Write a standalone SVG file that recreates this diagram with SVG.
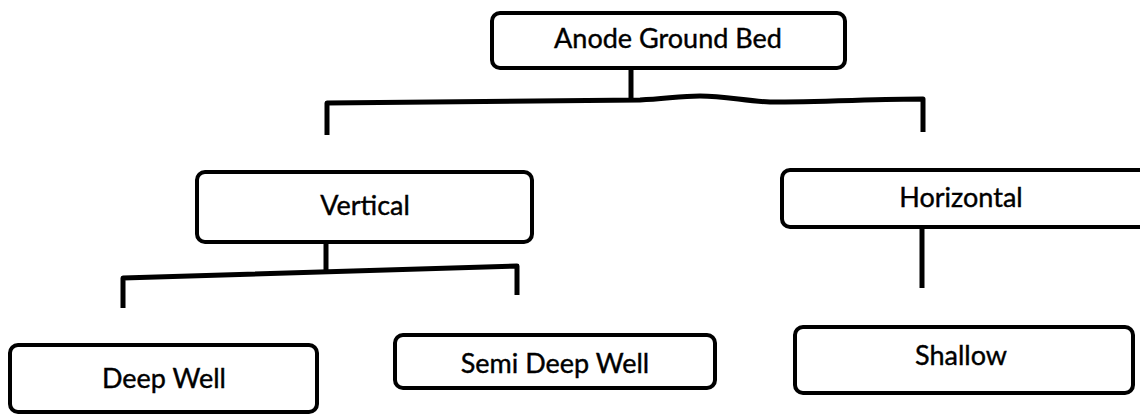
<svg xmlns="http://www.w3.org/2000/svg" width="1140" height="417" viewBox="0 0 1140 417">
<style>
.box{fill:#fff;stroke:#000;stroke-width:4;}
.lbl{font-family:Lato,"Liberation Sans",sans-serif;font-size:27px;fill:#000;stroke:#000;stroke-width:0.4;text-anchor:middle;}
.con{fill:none;stroke:#000;stroke-width:5;stroke-linejoin:round;}
</style>
<rect width="1140" height="417" fill="#fff"/>
<g id="connectors">
<line class="con" x1="631" y1="68" x2="631" y2="101"/>
<path class="con" d="M327,135 V103 L640,100 C665,99 680,96 700,96 C725,96 745,101 770,102 C820,102 880,99 923,99 V132"/>
<line class="con" x1="326" y1="242" x2="326" y2="272"/>
<path class="con" d="M123,308 V278 L517,266 V295"/>
<line class="con" x1="922" y1="227" x2="922" y2="288" stroke-width="4"/>
</g>
<g id="n-anode">
<rect class="box" x="492" y="13" width="353" height="55" rx="8"/>
<text class="lbl" x="668" y="48">Anode Ground Bed</text>
</g>
<g id="n-vertical">
<rect class="box" x="197" y="172" width="335" height="70" rx="8"/>
<text class="lbl" x="365" y="215">Vertical</text>
</g>
<g id="n-horizontal">
<rect class="box" x="782" y="170" width="380" height="57" rx="8"/>
<text class="lbl" x="961" y="207">Horizontal</text>
</g>
<g id="n-deepwell">
<rect class="box" x="10" y="345" width="307" height="67" rx="8"/>
<text class="lbl" x="164" y="388">Deep Well</text>
</g>
<g id="n-semideep">
<rect class="box" x="395" y="335" width="320" height="53" rx="8"/>
<text class="lbl" x="555" y="373">Semi Deep Well</text>
</g>
<g id="n-shallow">
<rect class="box" x="795" y="327" width="338" height="66" rx="8"/>
<text class="lbl" x="961" y="365">Shallow</text>
</g>
</svg>
